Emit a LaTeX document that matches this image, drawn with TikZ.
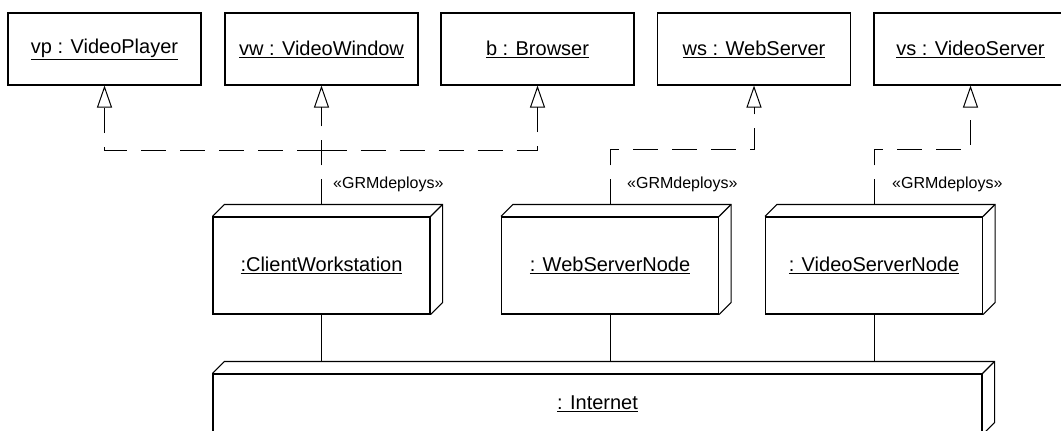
\documentclass[tikz,border=0pt]{standalone}
\usepackage{fontspec}
\setmainfont{Liberation Sans}
\usetikzlibrary{arrows.meta}

\begin{document}
\begin{tikzpicture}[
	x=1pt, y=1pt,
	instance/.style = {rectangle, draw, line width=1.1pt, minimum width=193pt,
		minimum height=72pt, inner sep=0pt, font=\fontsize{20}{24}\selectfont},
	depnode/.style  = {rectangle, draw, line width=1.1pt, minimum width=217pt,
		minimum height=97pt, inner sep=0pt, font=\fontsize{20}{24}\selectfont},
	netnode/.style  = {depnode, minimum width=769pt, minimum height=60pt},
	stereo/.style   = {anchor=base west, inner sep=0pt, font=\fontsize{16}{19}\selectfont},
	deploy/.style   = {line width=1pt, dash pattern=on 25pt off 14pt,
		-{Triangle[open, length=22pt, width=15pt, line width=1pt]}},
	link/.style     = {line width=1pt},
	box3d/.style    = {line width=1.1pt, line join=miter}
	]
	\clip (0,0) rectangle (1061,-431);
	
	% ===================== Deployed instances =====================
	\node[instance] (vp) at (104.5,-49) {\underline{vp : VideoPlayer}};
	\node[instance] (vw) at (321.5,-49) {\underline{vw : VideoWindow}};
	\node[instance] (b)  at (537.5,-49) {\underline{b : Browser}};
	\node[instance] (ws) at (754,-49)   {\underline{ws : WebServer}};
	\node[instance] (vs) at (970.5,-49) {\underline{vs : VideoServer}};
	
	% ===================== Hardware nodes =====================
	\node[depnode] (cw)  at (321.5,-265.5) {\underline{:ClientWorkstation}};
	\node[depnode] (wsn) at (610,-265.5)   {\underline{: WebServerNode}};
	\node[depnode] (vsn) at (874,-265.5)   {\underline{: VideoServerNode}};
	\node[netnode] (inet) at (597.5,-404)  {\underline{: Internet}};
	
	\foreach \n in {cw, wsn, vsn, inet}{
		\draw[box3d] (\n.north west) -- ++(12,12) -| ([shift={(12,12)}]\n.south east) -- (\n.south east);
		\draw[box3d] (\n.north east) -- ++(12,12);
	}
	
	\coordinate (cwtop)   at ([yshift=12pt]cw.north);
	\coordinate (wsntop)  at ([yshift=12pt]wsn.north);
	\coordinate (vsntop)  at ([yshift=12pt]vsn.north);
	\coordinate (inettop) at ([yshift=12pt]inet.north);
	
	% ===================== Deployments =====================
	\coordinate (j1) at (321.5,-150);
	\draw[deploy] (cwtop) -- (vw.south);
	\draw[deploy] (j1) -| (vp.south);
	\draw[deploy] (j1) -| (b.south);
	\draw[deploy] (wsntop) -- ++(0,55) -| (ws.south);
	\draw[deploy] (vsntop) -- ++(0,55) -| (vs.south);
	
	\node[stereo] (s1) at (333,-188) {«GRMdeploys»};
	\node[stereo] (s2) at (627,-188) {«GRMdeploys»};
	\node[stereo] (s3) at (892,-188) {«GRMdeploys»};
	
	% ===================== Network links =====================
	\draw[link] (cw.south)  -- (cw.south |- inettop);
	\draw[link] (wsn.south) -- (wsn.south |- inettop);
	\draw[link] (vsn.south) -- (vsn.south |- inettop);
	
\end{tikzpicture}
\end{document}
